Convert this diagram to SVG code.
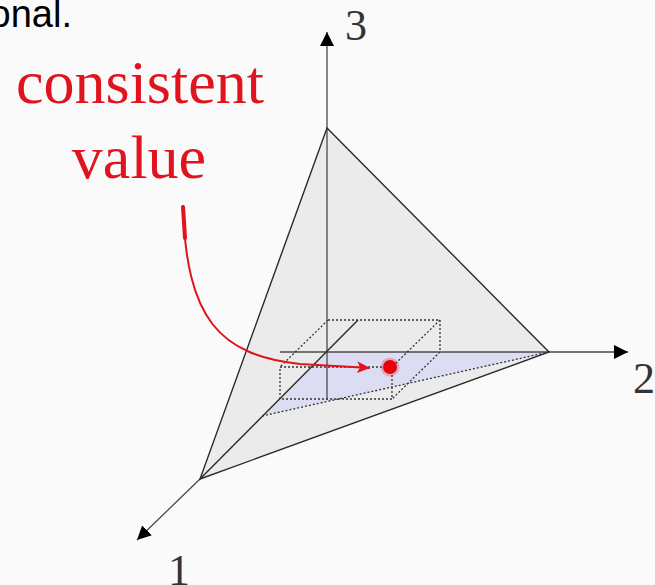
<svg xmlns="http://www.w3.org/2000/svg" width="655" height="585" viewBox="0 0 655 585">
<defs>
<style>
.axis{stroke:#4a4a4a;stroke-width:1.3;fill:none}
.edge{stroke:#2a2a2a;stroke-width:1.4;fill:none}
.dot{stroke:#333;stroke-width:1.3;stroke-dasharray:2 2;fill:none}
.num{font-family:"Liberation Serif","Times New Roman",serif;font-size:44px;fill:#333}
.red{font-family:"Liberation Serif","Times New Roman",serif;font-size:62px;fill:#e0141e}
</style>
<marker id="ah" markerUnits="userSpaceOnUse" markerWidth="16" markerHeight="16" refX="14" refY="7" orient="auto">
<path d="M0,0 L14,7 L0,14 z" fill="#000"/>
</marker>
<marker id="rh" markerUnits="userSpaceOnUse" markerWidth="16" markerHeight="14" refX="13" refY="6" orient="auto">
<path d="M0,0 L13,6 L0,12 L3,6 z" fill="#e0141e"/>
</marker>
</defs>
<rect width="655" height="585" fill="#fafafa"/>
<text x="72" y="27" text-anchor="end" font-family="'Liberation Sans',Arial,sans-serif" font-size="38" fill="#000">onal.</text>

<g id="tetrahedron">
<polygon points="327,128 549,352 200,479" fill="#ebebeb" stroke="none"/>
<polygon id="slice" points="327,352 549,352 265,415" fill="#dcdcf2" stroke="none"/>
</g>

<g id="connectors">
<line class="axis" x1="327" y1="400" x2="327" y2="32" marker-end="url(#ah)"/>
<line class="axis" x1="280" y1="352" x2="628" y2="352" marker-end="url(#ah)"/>
<line class="axis" x1="200" y1="479" x2="137" y2="540" marker-end="url(#ah)"/>
<line class="edge" x1="358" y1="320" x2="200" y2="479"/>
<polygon class="edge" points="327,128 549,352 200,479"/>
<line class="dot" x1="549" y1="352" x2="262" y2="416"/>
</g>

<g id="box">
<line class="dot" x1="328" y1="320" x2="440" y2="320"/>
<line class="dot" x1="440" y1="320" x2="440" y2="352"/>
<rect class="dot" x="280" y="367" width="112" height="32"/>
<line class="dot" x1="328" y1="320" x2="280" y2="367"/>
<line class="dot" x1="440" y1="320" x2="392" y2="367"/>
<line class="dot" x1="440" y1="352" x2="392" y2="399"/>
</g>

<g id="label-axes">
<text class="num" x="345" y="40">3</text>
<text class="num" x="633" y="393">2</text>
<text class="num" x="168" y="585">1</text>
</g>

<g id="annotation">
<text class="red" x="140" y="103" text-anchor="middle">consistent</text>
<text class="red" x="139" y="178" text-anchor="middle">value</text>
<path d="M183,205 C186,320 220,355 300,364 L370,368" fill="none" stroke="#e0141e" stroke-width="2" marker-end="url(#rh)"/>
<path d="M183,207 L185,238" stroke="#e0141e" stroke-width="4" stroke-linecap="round" fill="none"/>
<circle cx="390" cy="367" r="9.5" fill="#e0141e" opacity="0.25"/>
<circle cx="390" cy="367" r="7" fill="#e8000b"/>
</g>
</svg>
